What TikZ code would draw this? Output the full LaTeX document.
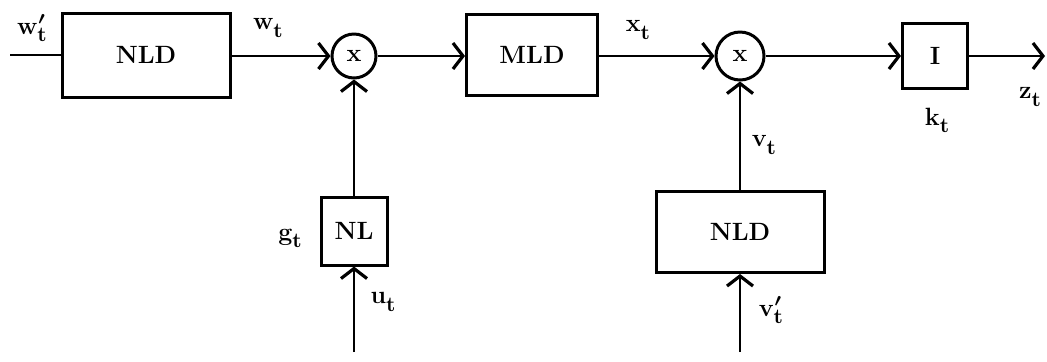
\documentclass[tikz,border=0pt]{standalone}
\usetikzlibrary{arrows.meta}
\newcommand{\sig}[2]{#1\raisebox{-0.65ex}{\fontsize{10.5}{12}\selectfont #2}}
\newcommand{\sigp}[2]{#1\makebox[0pt][l]{\kern0.5pt\raisebox{0.1ex}{\fontsize{13}{14}\selectfont$\boldsymbol{'}$}}\raisebox{-0.65ex}{\fontsize{10.5}{12}\selectfont #2}}
\usepackage{amsmath,amssymb}
\begin{document}
\begin{tikzpicture}[x=0.5pt,y=-0.5pt,
  font=\fontsize{12.5}{14}\selectfont\bfseries,
  line width=1.4pt,
  blk/.style={draw,line width=1.5pt,inner sep=0pt},
  mult/.style={draw,circle,line width=1.5pt,inner sep=0pt},
  arr/.style={-{Straight Barb[length=5pt,width=13pt,line width=1.6pt]}},
  lbl/.style={inner sep=0pt}]
\useasboundingbox (0,0) rectangle (1047,361);
% blocks
\node[blk,minimum width=84pt,minimum height=42pt] (nld1) at (146,55) {NLD};
\node[mult,minimum size=22pt] (m1) at (354,56) {x};
\node[blk,minimum width=65.5pt,minimum height=40.5pt] (mld) at (532,55) {MLD};
\node[mult,minimum size=24pt] (m2) at (740,56) {x};
\node[blk,minimum width=32.5pt,minimum height=32.5pt] (int) at (935,56) {I};
\node[blk,minimum width=33pt,minimum height=34pt] (nl) at (354,231) {NL};
\node[blk,minimum width=84pt,minimum height=40.5pt] (nld2) at (740,232) {NLD};
% free ends
\coordinate (win) at (10,55);
\coordinate (zout) at (1045,56);
\coordinate (uin) at (354,352);
\coordinate (vin) at (740,352);
% connectors
\draw (win) -- (nld1.west);
\draw[arr] (nld1.east |- m1.west) -- (m1.west);
\draw[arr] (m1.east) -- (mld.west |- m1.east);
\draw[arr] (mld.east |- m2.west) -- (m2.west);
\draw[arr] (m2.east) -- (int.west);
\draw[arr] (int.east) -- (zout);
\draw[arr] (nl.north) -- (m1.south);
\draw[arr] (uin) -- (nl.south);
\draw[arr] (nld2.north) -- (m2.south);
\draw[arr] (vin) -- (nld2.south);
% labels
\node[lbl] (lw1) at (32,28) {\sigp{w}{t}};
\node[lbl] (lw) at (268,28) {\sig{w}{t}};
\node[lbl] (lx) at (638,30) {\sig{x}{t}};
\node[lbl] (lz) at (1030,97) {\sig{z}{t}};
\node[lbl] (lk) at (937,120) {\sig{k}{t}};
\node[lbl] (lg) at (290,238) {\sig{g}{t}};
\node[lbl] (lu) at (383,302) {\sig{u}{t}};
\node[lbl] (lv) at (764,145) {\sig{v}{t}};
\node[lbl] (lv1) at (771,310) {\sigp{v}{t}};
\end{tikzpicture}
\end{document}
